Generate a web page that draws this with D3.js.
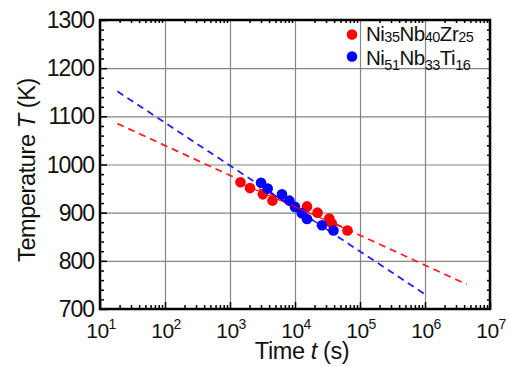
<!DOCTYPE html>
<html>
<head>
<meta charset="utf-8">
<script src="https://cdn.jsdelivr.net/npm/d3@7"></script>
<style>
  body { margin: 0; background: #fff; }
  text { font-family: "Liberation Sans", Arial, sans-serif; fill: #111; }
</style>
</head>
<body>
<div id="chart"></div>
<script>
// data
const redTime = [1450, 2030, 3200, 4500, 15300, 22200, 33700, 36700, 64200];
const redTemp = [963, 951, 938, 925, 913, 900, 888, 878, 863];
const blueTime = [3000, 3800, 6300, 8200, 10000, 12700, 15300, 26000, 39100];
const blueTemp = [962, 950, 938, 925, 912, 899, 887, 874, 863];

// fitted lines: dashed extrapolation and solid part over the data
const redDashTime = [18.5, 4.4e6];
const redDashTemp = [1085, 751];
const redSolidTime = [1450, 64200];
const redSolidTemp = [961, 865];
const blueDashTime = [18.5, 1.07e6];
const blueDashTemp = [1152, 728];
const blueSolidTime = [3000, 39100];
const blueSolidTemp = [955, 856];

const xDecades = [1, 2, 3, 4, 5, 6, 7];
const yTicks = [700, 800, 900, 1000, 1100, 1200, 1300];

const legendItems = [
  { color: "#ff0000", parts: [["Ni", 0], ["35", 1], ["Nb", 0], ["40", 1], ["Zr", 0], ["25", 1]] },
  { color: "#0000ff", parts: [["Ni", 0], ["51", 1], ["Nb", 0], ["33", 1], ["Ti", 0], ["16", 1]] }
];

const width = 509, height = 367;
const margin = { top: 20, right: 19, bottom: 58, left: 100 };
const innerW = width - margin.left - margin.right;
const innerH = height - margin.top - margin.bottom;

const svg = d3.select("#chart").append("svg")
  .attr("width", width)
  .attr("height", height);

const g = svg.append("g")
  .attr("transform", `translate(${margin.left},${margin.top})`);

const x = d3.scaleLog().domain([10, 1e7]).range([0, innerW]);
const y = d3.scaleLinear().domain([700, 1300]).range([innerH, 0]);

// minor tick values
const xMinor = [];
xDecades.slice(0, -1).forEach(d => {
  for (let k = 2; k <= 9; k++) xMinor.push(k * Math.pow(10, d));
});
const yMinor = d3.range(700, 1301, 20).filter(v => v % 100 !== 0);

// grid
g.append("g")
  .attr("class", "grid")
  .call(d3.axisBottom(x).tickValues(xDecades.map(d => Math.pow(10, d))).tickSize(innerH).tickFormat(""))
  .call(s => s.select(".domain").remove())
  .call(s => s.selectAll("line").attr("stroke", "#858585").attr("stroke-width", 1.2));
g.append("g")
  .attr("class", "grid")
  .call(d3.axisLeft(y).tickValues(yTicks).tickSize(-innerW).tickFormat(""))
  .call(s => s.select(".domain").remove())
  .call(s => s.selectAll("line").attr("stroke", "#858585").attr("stroke-width", 1.2));

// fit lines
const line = d3.line().x(d => x(d[0])).y(d => y(d[1]));
const fits = [
  { t: redDashTime, T: redDashTemp, color: "#ff2020", dash: "7,5", w: 1.8 },
  { t: blueDashTime, T: blueDashTemp, color: "#2020ff", dash: "7,5", w: 1.8 },
];
fits.forEach(f => {
  g.append("path")
    .datum(d3.zip(f.t, f.T))
    .attr("d", line)
    .attr("fill", "none")
    .attr("stroke", f.color)
    .attr("stroke-width", f.w)
    .attr("stroke-dasharray", f.dash);
});

// points
g.selectAll(".red").data(d3.zip(redTime, redTemp)).enter()
  .append("circle")
  .attr("cx", d => x(d[0])).attr("cy", d => y(d[1]))
  .attr("r", 5.3).attr("fill", "#ff0000");
g.selectAll(".blue").data(d3.zip(blueTime, blueTemp)).enter()
  .append("circle")
  .attr("cx", d => x(d[0])).attr("cy", d => y(d[1]))
  .attr("r", 5.3).attr("fill", "#0000ff");

[[redSolidTime, redSolidTemp, "#ff0000"], [blueSolidTime, blueSolidTemp, "#0000ff"]].forEach(([t, T, c]) => {
  g.append("path")
    .datum(d3.zip(t, T))
    .attr("d", line)
    .attr("fill", "none")
    .attr("stroke", c)
    .attr("stroke-width", 1.2);
});

// inward ticks on all four sides
function ticks(axis, vals, size, transform) {
  g.append("g")
    .attr("transform", transform || null)
    .call(axis.tickValues(vals).tickSize(size).tickFormat(""))
    .call(s => s.select(".domain").remove())
    .call(s => s.selectAll("line").attr("stroke", "#000").attr("stroke-width", 1.5));
}
ticks(d3.axisBottom(x), xMinor, -4, `translate(0,${innerH})`);
ticks(d3.axisBottom(x), xDecades.map(d => Math.pow(10, d)), -7, `translate(0,${innerH})`);
ticks(d3.axisTop(x), xMinor, -3, null);
ticks(d3.axisLeft(y), yMinor, -4, null);
ticks(d3.axisLeft(y), yTicks, -7, null);
ticks(d3.axisRight(y), yMinor, -3, `translate(${innerW},0)`);

// frame
g.append("rect")
  .attr("width", innerW).attr("height", innerH)
  .attr("fill", "none").attr("stroke", "#000").attr("stroke-width", 2.5);

// y tick labels
g.selectAll(".ylab").data(yTicks).enter()
  .append("text")
  .attr("x", -6)
  .attr("y", d => y(d) + 8)
  .attr("text-anchor", "end")
  .attr("font-size", 23)
  .attr("letter-spacing", -1)
  .text(d => d);

// x tick labels 10^n
const xl = g.selectAll(".xlab").data(xDecades).enter()
  .append("text")
  .attr("x", d => x(Math.pow(10, d)) + 1)
  .attr("y", innerH + 29)
  .attr("text-anchor", "middle")
  .attr("font-size", 21)
  .attr("letter-spacing", -0.6);
xl.append("tspan").text("10");
xl.append("tspan").attr("font-size", 14).attr("dy", -9).text(d => d);

// axis titles
const xt = svg.append("text")
  .attr("x", 302).attr("y", 359)
  .attr("text-anchor", "middle")
  .attr("font-size", 23.5)
  .attr("letter-spacing", -0.4);
xt.append("tspan").text("Time ");
xt.append("tspan").attr("font-style", "italic").text("t");
xt.append("tspan").text(" (s)");

const yt = svg.append("text")
  .attr("transform", "translate(35,170) rotate(-90)")
  .attr("text-anchor", "middle")
  .attr("font-size", 23.5)
  .attr("letter-spacing", -0.4);
yt.append("tspan").text("Temperature ");
yt.append("tspan").attr("font-style", "italic").text("T");
yt.append("tspan").text(" (K)");

// legend
const lg = svg.append("g").attr("transform", "translate(352,34.5)");
legendItems.forEach((item, i) => {
  const row = lg.append("g").attr("transform", `translate(0,${i * 22})`);
  row.append("circle").attr("r", 5.3).attr("fill", item.color);
  const t = row.append("text").attr("x", 14).attr("y", 6 + i * 2).attr("font-size", 20.5).attr("letter-spacing", -0.5);
  let prev = 0;
  item.parts.forEach(([s, sub]) => {
    const shift = sub ? (i === 0 ? 1 : 5) : 0;
    t.append("tspan")
      .attr("dy", shift - prev)
      .attr("font-size", sub ? 14.5 : 20.5)
      .text(s);
    prev = shift;
  });
});
</script>
</body>
</html>
